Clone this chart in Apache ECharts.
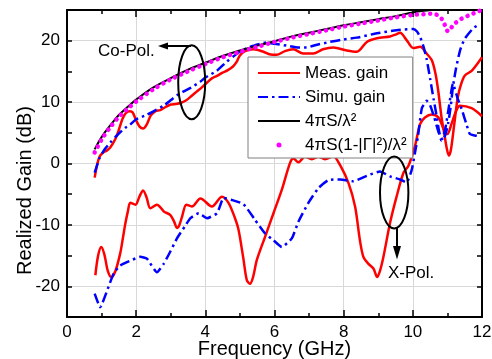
<!DOCTYPE html>
<html>
<head>
<meta charset="utf-8">
<script src="https://cdn.jsdelivr.net/npm/echarts@6/dist/echarts.min.js"></script>
<style>
html,body{margin:0;padding:0;background:#fff;}
#c{width:492px;height:359px;}
</style>
</head>
<body>
<div id="c"></div>
<script>
// ---- Data ----
const xTickLabels = ['0', '2', '4', '6', '8', '10', '12'];
const yTickLabels = ['-20', '-10', '0', '10', '20'];

// Measured gain, co-polarisation
const measCoFreq = [0.8,0.88,0.95,1.05,1.15,1.25,1.39,1.5,1.6,1.7,1.82,1.9,2.0,2.1,2.2,2.3,2.42,2.55,2.7,2.85,3.0,3.15,3.3,3.45,3.6,3.75,3.9,4.05,4.2,4.35,4.5,4.65,4.8,4.9,5.0,5.15,5.39,5.68,5.85,6.06,6.3,6.54,6.83,7.12,7.4,7.7,8.09,8.38,8.67,8.96,9.34,9.5,9.63,9.82,10.01,10.21,10.4,10.55,10.66,10.74,10.83,10.92,10.98,11.04,11.1,11.2,11.3,11.4,11.5,11.7,11.94,12.0];
const measCoGain = [-2.3,0.0,1.2,1.8,2.1,2.6,3.9,5.5,7.2,8.2,8.5,8.3,7.0,6.0,5.7,6.3,7.8,8.5,8.7,9.2,9.6,9.7,9.9,10.3,11.0,11.7,12.4,13.2,13.9,14.3,14.8,15.2,15.8,16.5,17.6,18.3,18.6,18.2,17.8,17.7,18.3,18.6,17.9,17.9,18.6,18.9,18.4,18.2,19.8,20.4,20.7,21.0,21.3,20.1,18.8,19.0,17.9,16.8,14.5,11.6,7.5,4.5,2.5,1.3,2.2,6.5,10.8,13.0,14.3,15.1,16.8,17.3];

// Measured gain, cross-polarisation
const measXFreq = [0.82,0.9,0.99,1.08,1.18,1.28,1.4,1.54,1.62,1.69,1.76,1.83,1.98,2.1,2.2,2.3,2.41,2.6,2.8,2.99,3.1,3.18,3.25,3.33,3.45,3.61,3.86,4.19,4.48,4.67,4.85,4.96,5.1,5.2,5.29,5.38,5.49,5.73,5.97,6.21,6.45,6.55,6.69,6.88,7.08,7.27,7.46,7.7,7.89,8.14,8.33,8.47,8.57,8.71,8.86,8.97,9.05,9.15,9.34,9.53,9.73,9.87,10.06,10.21,10.35,10.55,10.74,10.9,11.0,11.12,11.25,11.36,11.7,12.0];
const measXGain = [-18.2,-15.0,-13.6,-14.8,-17.5,-18.5,-17.5,-14.6,-12.0,-9.7,-7.8,-6.4,-6.7,-5.3,-4.4,-5.5,-7.3,-6.7,-7.8,-8.4,-9.5,-10.5,-10.0,-8.6,-6.7,-7.0,-5.7,-7.0,-5.4,-6.4,-8.8,-10.8,-15.5,-19.0,-19.6,-18.5,-15.7,-11.9,-8.1,-4.3,0.1,0.8,0.2,1.1,0.7,1.1,0.7,1.2,-0.2,-3.2,-7.0,-12.5,-15.2,-16.3,-17.1,-18.5,-17.5,-15.2,-9.7,-5.4,-1.5,-0.4,2.8,6.4,7.5,8.0,7.5,5.5,4.8,6.5,8.5,9.4,9.0,7.7];

// Simulated gain, co-polarisation
const simCoFreq = [0.8,0.95,1.1,1.25,1.45,1.68,1.82,2.0,2.3,2.5,2.79,3.0,3.18,3.36,3.6,3.85,4.0,4.33,4.62,4.8,5.0,5.29,5.58,5.77,6.0,6.35,6.7,6.93,7.2,7.6,8.0,8.38,8.96,9.53,10.01,10.12,10.21,10.3,10.4,10.5,10.6,10.68,10.76,10.83,10.93,11.02,11.1,11.16,11.25,11.37,11.5,11.74,11.9];
const simCoGain = [-1.5,1.0,2.4,3.4,4.6,5.8,6.3,7.2,7.9,8.5,9.4,10.3,11.1,11.7,12.4,13.3,14.0,15.1,16.6,17.4,18.2,19.0,19.5,19.7,19.5,19.2,18.9,18.9,19.3,19.8,20.2,20.5,21.2,21.7,21.9,21.5,20.6,19.2,17.0,13.8,10.5,8.0,5.2,3.7,4.5,6.5,9.5,12.5,15.5,18.5,20.3,22.0,22.6];

// Simulated gain, cross-polarisation
const simXFreq = [0.8,0.96,1.16,1.35,1.54,1.8,2.12,2.31,2.6,2.8,3.0,3.18,3.4,3.57,3.81,4.05,4.34,4.53,4.75,5.1,5.44,5.73,5.97,6.21,6.5,6.69,6.98,7.27,7.56,7.9,8.28,8.67,9.05,9.34,9.63,9.82,9.97,10.06,10.15,10.26,10.4,10.5,10.62,10.75,10.85,10.95,11.05,11.16,11.3,11.41,11.55,11.65,11.85];
const simXGain = [-21.2,-23.4,-20.7,-17.9,-16.6,-15.9,-15.2,-15.5,-17.7,-16.3,-14.2,-12.2,-10.3,-8.9,-8.1,-8.9,-8.1,-5.6,-5.9,-6.6,-9.2,-11.4,-12.5,-13.6,-12.2,-9.5,-6.4,-4.0,-2.7,-2.6,-2.9,-2.0,-1.3,-2.1,-2.6,-3.1,-1.0,1.7,4.5,9.0,10.2,9.5,7.5,5.0,4.0,6.0,9.5,13.0,10.5,8.9,6.4,4.8,4.5];

// 4*pi*S/lambda^2
const apertureFreq = [0.8,1.0,1.25,1.5,1.75,2.0,2.5,3.0,3.5,4.0,4.5,5.0,5.5,6.0,6.5,7.0,7.5,8.0,8.5,9.0,9.5,10.0,10.5,11.0,11.5,12.0];
const apertureGain = [2.3,4.3,6.2,7.9,9.2,10.4,12.4,13.9,15.3,16.4,17.5,18.4,19.2,19.9,20.7,21.3,21.9,22.5,23.0,23.5,24.0,24.6,25.0,25.4,25.8,26.2];

// 4*pi*S(1-|Gamma|^2)/lambda^2
const mismatchFreq = [0.8,1.0,1.25,1.5,1.75,2.0,2.5,3.0,3.5,4.0,4.5,5.0,5.5,6.0,6.5,7.0,7.5,8.0,8.5,9.0,9.5,10.0,10.3,10.55,10.7,10.83,10.93,11.02,11.15,11.3,11.45,11.65,11.9,12.0];
const mismatchGain = [1.8,3.9,5.9,7.6,8.9,10.1,12.1,13.7,15.0,16.2,17.3,18.2,19.0,19.8,20.5,21.1,21.7,22.3,22.8,23.3,23.8,24.2,24.3,24.4,24.2,23.6,22.5,21.5,22.4,23.2,23.7,24.2,24.8,25.0];

const names = ['Meas. gain', 'Simu. gain', '4πS/λ²', '4πS(1-|Γ|²)/λ²'];
// ----------------------------------------------

const zip = (xs, ys) => xs.map((x, i) => [x, ys[i]]);
const FONT = 'Liberation Sans';
const RED = '#ff0000', BLUE = '#0000ff', BLACK = '#000000', MAG = '#ff00ff';

const chart = echarts.init(document.getElementById('c'), null, {renderer: 'canvas'});

const xBase = {
  type: 'value', min: 0, max: 12, interval: 2,
  axisLine: {show: true, onZero: false, lineStyle: {color: '#000', width: 2}},
  axisTick: {show: true, inside: true, length: 7, lineStyle: {color: '#000', width: 1.5}},
  minorTick: {show: true, splitNumber: 2, length: 4, lineStyle: {color: '#000', width: 1.5}}
};
const yBase = {
  type: 'value', min: -25, max: 25, interval: 5,
  axisLine: {show: true, onZero: false, lineStyle: {color: '#000', width: 2}},
  axisTick: {show: true, inside: true, length: 5, lineStyle: {color: '#000', width: 1.5}}
};

const option = {
  animation: false,
  backgroundColor: '#fff',
  textStyle: {fontFamily: FONT},
  grid: {left: 67, right: 10, top: 10, bottom: 42, containLabel: false, outerBoundsMode: 'none'},
  xAxis: [
    Object.assign({}, xBase, {
      position: 'bottom',
      axisLabel: {show: true, fontSize: 17, color: '#000', margin: 7, fontFamily: FONT,
        formatter: v => xTickLabels.indexOf(String(v)) >= 0 ? String(v) : ''},
      splitLine: {show: true, lineStyle: {color: '#d9d9d9', width: 1}},
      name: 'Frequency (GHz)', nameLocation: 'middle', nameGap: 22, nameMoveOverlap: false,
      nameTextStyle: {fontSize: 20, color: '#000', fontFamily: FONT}
    }),
    Object.assign({}, xBase, {
      position: 'top', axisLabel: {show: false}, splitLine: {show: false}
    })
  ],
  yAxis: [
    Object.assign({}, yBase, {
      position: 'left',
      axisLabel: {show: true, fontSize: 17, color: '#000', margin: 7, fontFamily: FONT,
        formatter: v => yTickLabels.indexOf(String(v)) >= 0 ? String(v) : ''},
      splitLine: {show: true, lineStyle: {color: ['rgba(0,0,0,0)', '#d9d9d9'], width: 1}},
      name: 'Realized Gain (dB)', nameLocation: 'middle', nameGap: 32, nameMoveOverlap: false,
      nameTextStyle: {fontSize: 20, color: '#000', fontFamily: FONT, padding: [0, 54, 0, 0]}
    }),
    Object.assign({}, yBase, {
      position: 'right', axisLabel: {show: false}, splitLine: {show: false}
    })
  ],
  legend: {
    left: 248, top: 57, orient: 'vertical',
    backgroundColor: '#fff', borderColor: '#808080', borderWidth: 1, borderRadius: 0,
    padding: [7, 6, 4, 9],
    itemWidth: 42, itemHeight: 5, itemGap: 6,
    textStyle: {fontSize: 17, color: '#000', fontFamily: FONT, lineHeight: 18},
    data: [
      {name: names[0], itemStyle: {opacity: 0}},
      {name: names[1], itemStyle: {opacity: 0}},
      {name: names[2], itemStyle: {opacity: 0}},
      {name: names[3], icon: 'circle', itemStyle: {color: MAG, borderWidth: 0}, lineStyle: {opacity: 0}}
    ]
  },
  series: [
    {name: names[0], type: 'line', data: zip(measCoFreq, measCoGain), showSymbol: false, symbol: 'none',
     smooth: 0.3, itemStyle: {color: RED}, lineStyle: {color: RED, width: 2.5}, clip: true},
    {name: names[0], type: 'line', data: zip(measXFreq, measXGain), showSymbol: false, symbol: 'none',
     smooth: 0.3, itemStyle: {color: RED}, lineStyle: {color: RED, width: 2.5}, clip: true},
    {name: names[1], type: 'line', data: zip(simCoFreq, simCoGain), showSymbol: false, symbol: 'none',
     smooth: 0.2, itemStyle: {color: BLUE}, lineStyle: {color: BLUE, width: 2.5, type: [10, 4, 2.5, 4]}, clip: true},
    {name: names[1], type: 'line', data: zip(simXFreq, simXGain), showSymbol: false, symbol: 'none',
     smooth: 0.15, itemStyle: {color: BLUE}, lineStyle: {color: BLUE, width: 2.5, type: [10, 4, 2.5, 4]}, clip: true},
    {name: names[2], type: 'line', data: zip(apertureFreq, apertureGain), showSymbol: false, symbol: 'none',
     smooth: 0.4, itemStyle: {color: BLACK}, lineStyle: {color: BLACK, width: 2}, clip: true},
    {name: names[3], type: 'line', data: zip(mismatchFreq, mismatchGain), showSymbol: false, symbol: 'none',
     smooth: 0.3, itemStyle: {color: MAG}, lineStyle: {color: MAG, width: 4.5, type: [0.1, 6.5], cap: 'round'}, clip: true}
  ]
};
chart.setOption(option);

// Annotations (ellipses, arrows, labels)
const ann = [
  {type: 'ellipse', shape: {cx: 191.7, cy: 82.2, rx: 13.5, ry: 37}, style: {fill: 'none', stroke: '#000', lineWidth: 2}, z: 100},
  {type: 'line', shape: {x1: 191, y1: 46, x2: 167, y2: 46}, style: {stroke: '#000', lineWidth: 2}, z: 100},
  {type: 'polygon', shape: {points: [[158, 46], [168, 42.5], [168, 49.5]]}, style: {fill: '#000'}, z: 100},
  {type: 'text', x: 98, y: 51, style: {text: 'Co-Pol.', font: '17px "Liberation Sans"', fill: '#000', textVerticalAlign: 'middle'}, z: 100},
  {type: 'ellipse', shape: {cx: 394.2, cy: 192.5, rx: 14.2, ry: 36}, style: {fill: 'none', stroke: '#000', lineWidth: 2}, z: 100},
  {type: 'line', shape: {x1: 397, y1: 228, x2: 397, y2: 250}, style: {stroke: '#000', lineWidth: 2}, z: 100},
  {type: 'polygon', shape: {points: [[397, 259.5], [393, 246], [401, 246]]}, style: {fill: '#000'}, z: 100},
  {type: 'text', x: 388, y: 273.5, style: {text: 'X-Pol.', font: '17px "Liberation Sans"', fill: '#000', textVerticalAlign: 'middle'}, z: 100}
];
chart.setOption({graphic: {elements: ann}});
</script>
</body>
</html>
